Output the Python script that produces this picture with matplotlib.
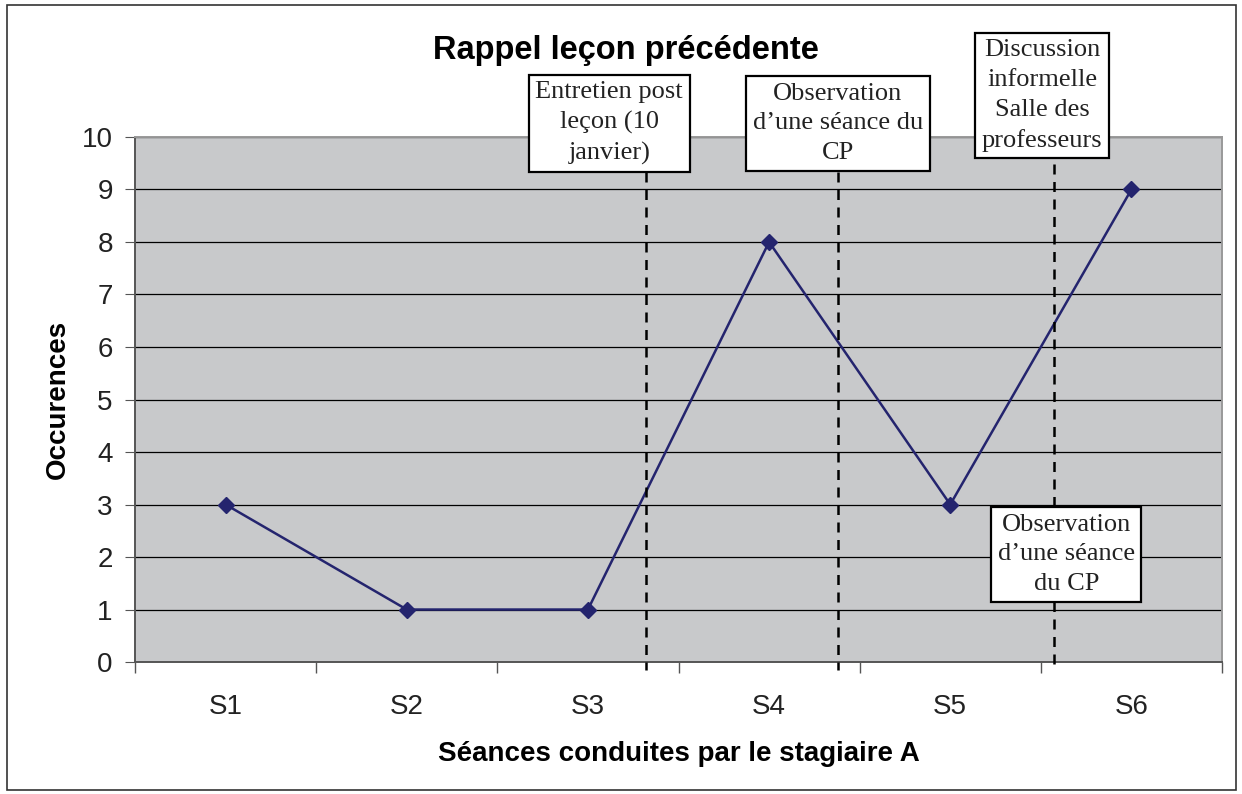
import numpy as np
import matplotlib.pyplot as plt
from matplotlib.patches import Rectangle

seances = ["S1", "S2", "S3", "S4", "S5", "S6"]
occurences = [3, 1, 1, 8, 3, 9]

# events between sessions: position on category axis, top of dashed line, box centre
event_labels = ["Entretien post\nleçon (10\njanvier)",
                "Observation\nd\u2019une séance du\nCP",
                "Discussion\ninformelle\nSalle des\nprofesseurs"]
event_x = [2.32, 3.38, 4.575]
event_top = [9.33, 9.33, 9.49]
box_x = [2.118, 3.38, 4.508]
box_y = [10.26, 10.26, 10.79]
extra_label = "Observation\nd\u2019une séance\ndu CP"
extra_pos = (4.64, 2.05)

plt.rcParams['font.family'] = ['Liberation Sans', 'DejaVu Sans']

fig = plt.figure(figsize=(12.42, 7.94), dpi=100)
ax = fig.add_axes([0.1087, 0.1662, 0.8752, 0.6613])
ax.set_facecolor('#c8c9cb')

x = np.arange(len(seances))
ax.plot(x, occurences, color='#24246e', lw=1.8, marker='D', ms=8.5, zorder=3)

ax.set_xlim(-0.5, 5.5)
ax.set_ylim(0, 10)
ax.set_yticks(range(0, 11))
ax.yaxis.grid(True, color='black', lw=0.9)
ax.set_axisbelow(True)
ax.set_xticks(x)
ax.set_xticklabels(seances)
ax.set_xticks(np.arange(-0.5, 6, 1), minor=True)
ax.tick_params(axis='x', which='major', length=0, labelsize=20, pad=23, colors='#222222')
ax.tick_params(axis='x', which='minor', length=8, color='#555555', width=1)
ax.tick_params(axis='y', length=7, labelsize=20, color='#555555', labelcolor='#222222', pad=9)

for s in ['left', 'bottom']:
    ax.spines[s].set_color('#555555')
    ax.spines[s].set_linewidth(1.4)
for s in ['top', 'right']:
    ax.spines[s].set_color('#999999')
    ax.spines[s].set_linewidth(1.4)

ax.set_xlabel("Séances conduites par le stagiaire A", fontsize=20, fontweight='bold', labelpad=15)
ax.set_ylabel("Occurences", fontsize=20, fontweight='bold', labelpad=8)
ax.set_title("Rappel leçon précédente", fontsize=23.5, fontweight='bold', pad=56, x=0.452)

for ex, top in zip(event_x, event_top):
    ax.plot([ex, ex], [top, -0.15], color='black', lw=1.8, ls=(0, (4, 3)),
            clip_on=False, zorder=4)

box_style = dict(boxstyle='square,pad=0.25', fc='white', ec='black', lw=1.6)
for lab, bx, by in zip(event_labels, box_x, box_y):
    ax.text(bx, by, lab, ha='center', va='center', fontsize=19,
            family=['Liberation Serif'], color='#222222', linespacing=1.45,
            bbox=box_style, zorder=5, clip_on=False)
ax.text(extra_pos[0], extra_pos[1], extra_label, ha='center', va='center', fontsize=19,
        family=['Liberation Serif'], color='#222222', linespacing=1.45,
        bbox=box_style, zorder=5)

fig.patches.append(Rectangle((7 / 1242, 4 / 794), 1229 / 1242, 785 / 794,
                             transform=fig.transFigure, fill=False, ec='#333333', lw=1.2))

fig.savefig("out.png", dpi=100)
